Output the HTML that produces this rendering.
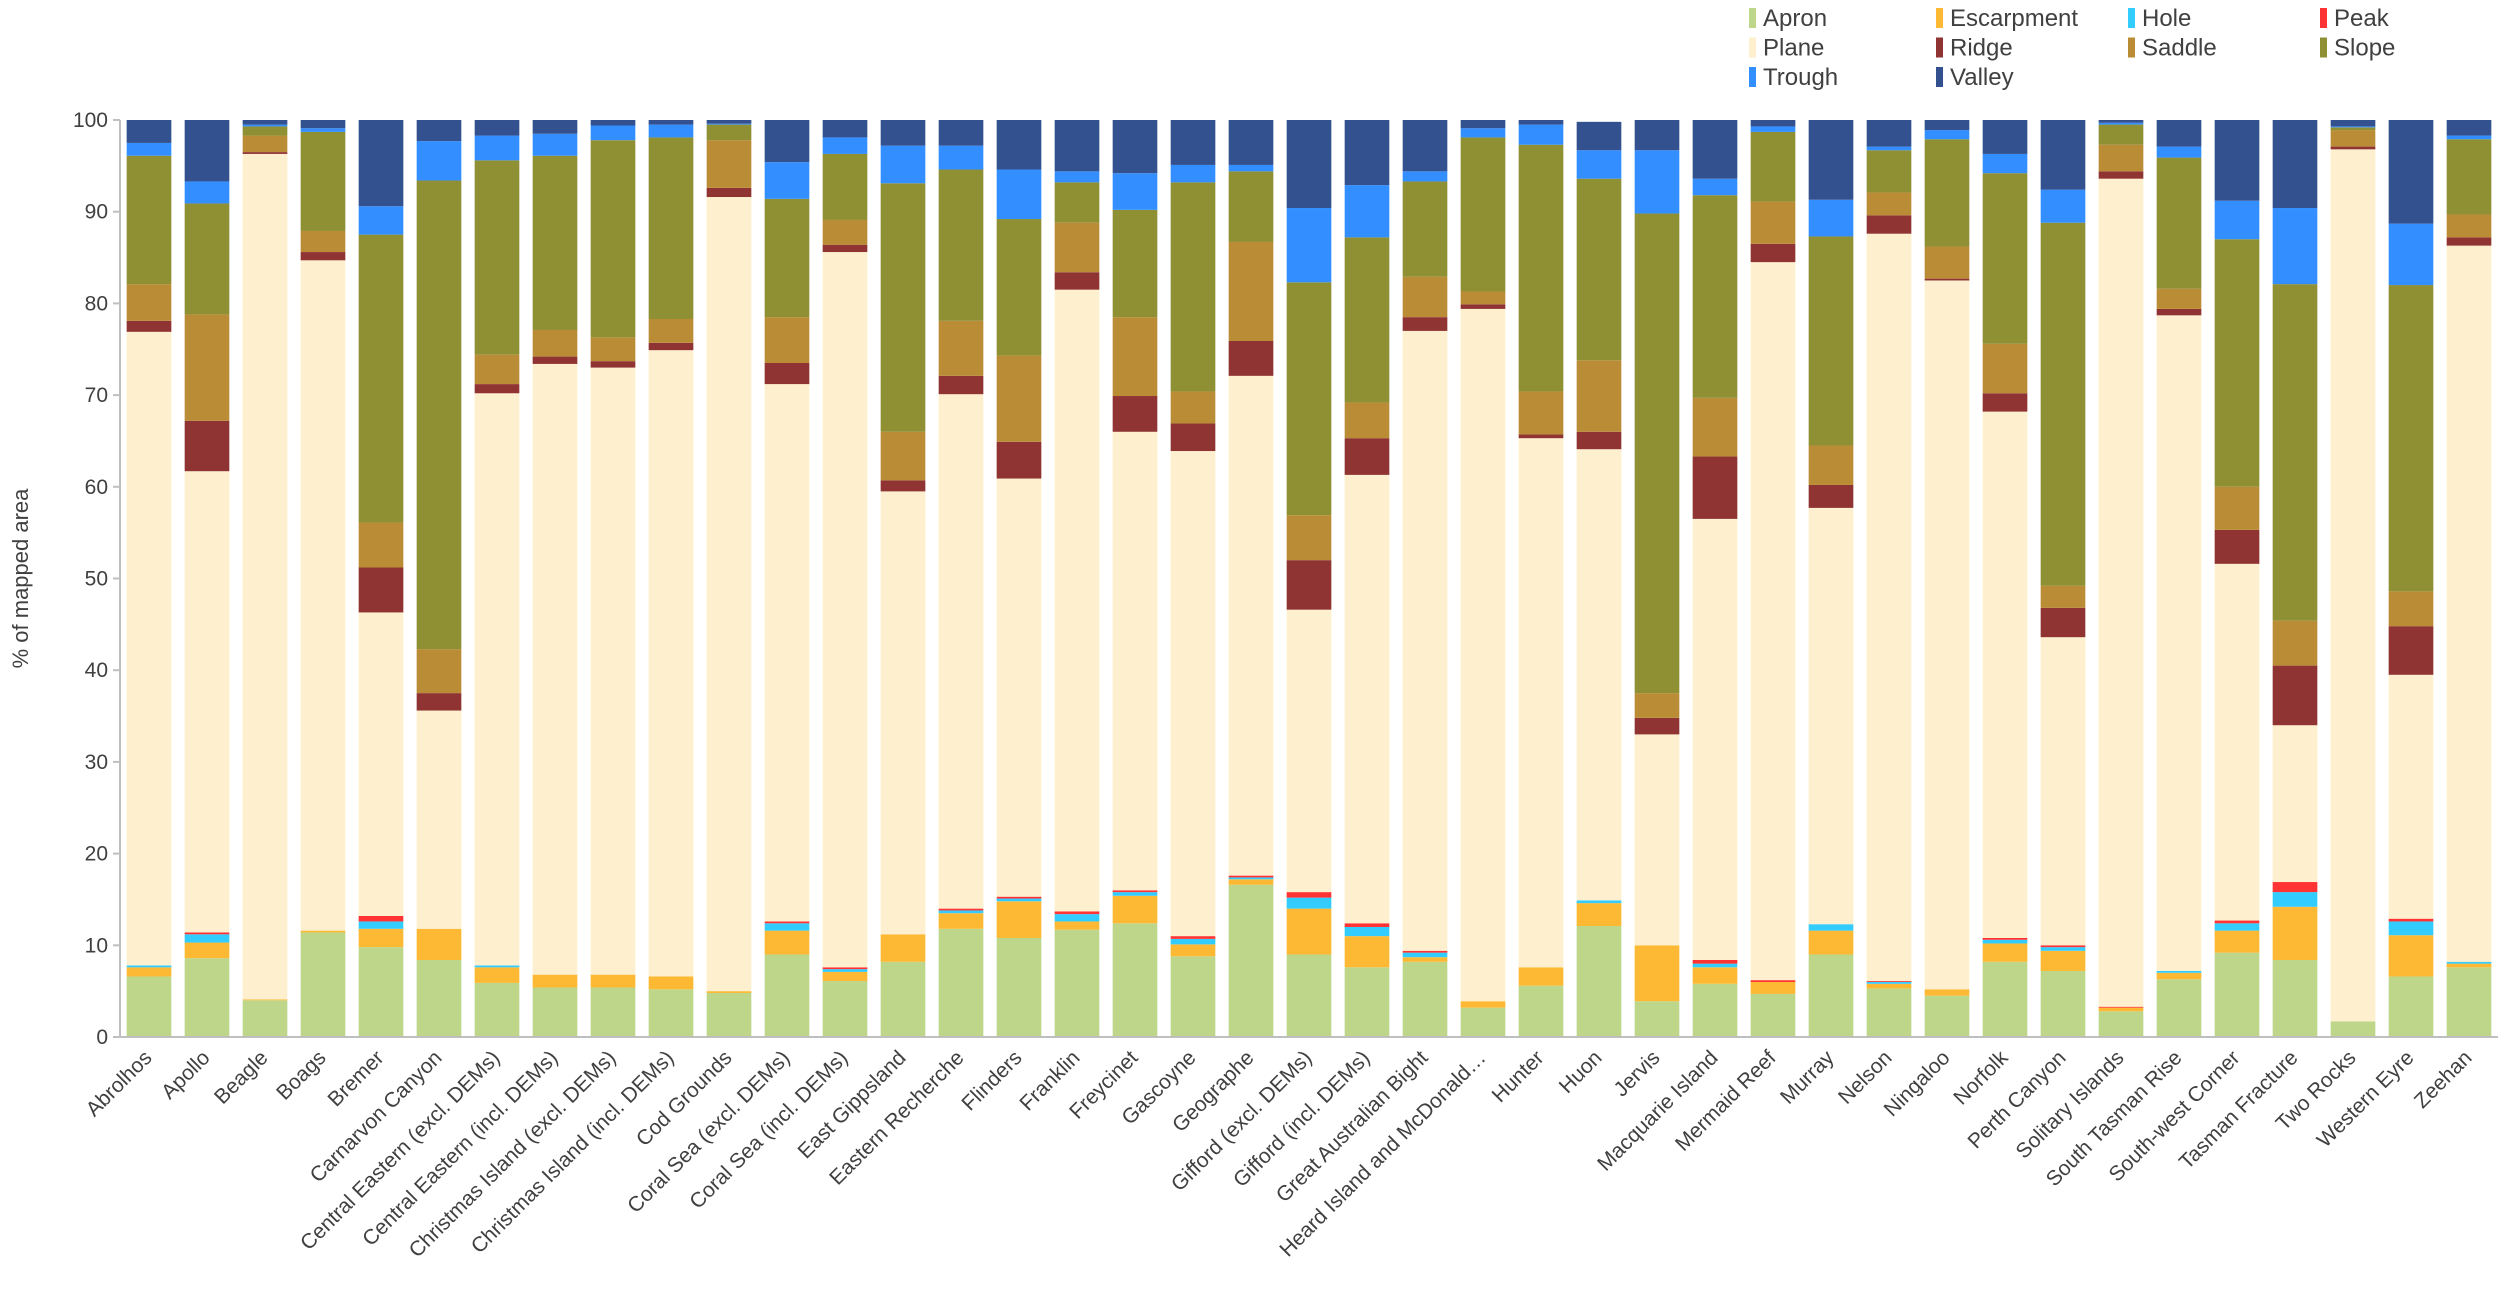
<!DOCTYPE html>
<html><head><meta charset="utf-8"><style>
body{margin:0;background:#fff;}
svg text{font-family:"Liberation Sans",sans-serif;fill:#404040;}
</style></head><body>
<svg id="chart" width="2500" height="1303" xmlns="http://www.w3.org/2000/svg"></svg>
<script>
const categories=["Abrolhos","Apollo","Beagle","Boags","Bremer","Carnarvon Canyon","Central Eastern (excl. DEMs)","Central Eastern (incl. DEMs)","Christmas Island (excl. DEMs)","Christmas Island (incl. DEMs)","Cod Grounds","Coral Sea (excl. DEMs)","Coral Sea (incl. DEMs)","East Gippsland","Eastern Recherche","Flinders","Franklin","Freycinet","Gascoyne","Geographe","Gifford (excl. DEMs)","Gifford (incl. DEMs)","Great Australian Bight","Heard Island and McDonald…","Hunter","Huon","Jervis","Macquarie Island","Mermaid Reef","Murray","Nelson","Ningaloo","Norfolk","Perth Canyon","Solitary Islands","South Tasman Rise","South-west Corner","Tasman Fracture","Two Rocks","Western Eyre","Zeehan"];
const seriesNames=["Apron","Escarpment","Hole","Peak","Plane","Ridge","Saddle","Slope","Trough","Valley"];
const seriesColors=["#bdd68a","#fdb933","#33ccff","#ff3333","#feefce","#8f3333","#b98c35","#8f8f33","#338fff","#33508f"];
const apron=[6.6,8.6,4.0,11.4,9.8,8.4,5.9,5.4,5.4,5.2,4.8,9.0,6.1,8.2,11.8,10.8,11.7,12.4,8.8,16.6,9.0,7.6,8.2,3.2,5.6,12.1,3.9,5.8,4.7,9.0,5.3,4.5,8.2,7.2,2.8,6.3,9.2,8.4,1.7,6.6,7.6];
const escarpment=[1.0,1.7,0.1,0.2,2.0,3.4,1.7,1.4,1.4,1.4,0.2,2.6,1.0,3.0,1.7,4.0,0.9,3.0,1.3,0.6,5.0,3.4,0.5,0.7,2.0,2.5,6.1,1.8,1.3,2.6,0.5,0.7,2.0,2.2,0.4,0.7,2.4,5.8,0,4.5,0.4];
const hole=[0.2,0.9,0,0,0.8,0,0.2,0,0,0,0,0.8,0.3,0,0.3,0.3,0.8,0.4,0.6,0.2,1.2,1.0,0.5,0,0,0.3,0,0.4,0,0.7,0.2,0,0.4,0.4,0,0.2,0.8,1.6,0,1.5,0.2];
const peak=[0,0.2,0,0,0.6,0,0,0,0,0,0,0.2,0.2,0,0.2,0.2,0.3,0.2,0.3,0.2,0.6,0.4,0.2,0,0,0,0,0.4,0.2,0,0.1,0,0.2,0.2,0.1,0,0.3,1.1,0,0.3,0];
const plane=[69.1,50.3,92.2,73.1,33.1,23.8,62.4,66.6,66.2,68.3,86.6,58.6,78.0,48.3,56.1,45.6,67.8,50.0,52.9,54.5,30.8,48.9,67.6,75.5,57.7,49.2,23.0,48.1,78.3,45.4,81.5,77.3,57.4,33.6,90.3,71.5,38.9,17.1,95.1,26.6,78.1];
const ridge=[1.2,5.5,0.2,0.9,4.9,1.9,1.0,0.8,0.7,0.8,1.0,2.3,0.8,1.2,2.0,4.0,1.9,3.9,3.0,3.8,5.4,4.0,1.5,0.5,0.4,1.9,1.8,6.8,2.0,2.5,2.0,0.2,2.0,3.2,0.8,0.7,3.7,6.5,0.3,5.3,0.9];
const saddle=[4.0,11.6,1.8,2.3,4.9,4.8,3.2,2.9,2.6,2.6,5.2,5.0,2.7,5.3,6.0,9.4,5.4,8.6,3.5,10.8,4.9,3.9,4.4,1.4,4.7,7.8,2.7,6.4,4.6,4.3,2.5,3.5,5.4,2.4,2.9,2.2,4.7,4.9,1.8,3.8,2.5];
const slope=[14.0,12.1,1.0,10.8,31.4,51.1,21.2,19.0,21.5,19.8,1.7,12.9,7.2,27.1,16.5,14.9,4.4,11.7,22.8,7.7,25.4,18.0,10.4,16.8,26.9,19.8,52.3,22.1,7.6,22.8,4.6,11.7,18.6,39.6,2.2,14.3,27.0,36.7,0.3,33.4,8.2];
const trough=[1.4,2.4,0.2,0.4,3.1,4.3,2.7,2.4,1.6,1.4,0.1,4.0,1.8,4.1,2.6,5.4,1.2,4.0,1.9,0.7,8.1,5.7,1.1,1.0,2.2,3.1,6.9,1.8,0.6,4.0,0.4,1.0,2.1,3.6,0.2,1.2,4.2,8.3,0.1,6.7,0.4];
const valley=[2.5,6.7,0.5,0.9,9.4,2.3,1.7,1.5,0.6,0.5,0.4,4.6,1.9,2.8,2.8,5.4,5.6,5.8,4.9,4.9,9.6,7.1,5.6,0.9,0.5,3.1,3.3,6.4,0.7,8.7,2.9,1.1,3.7,7.6,0.3,2.9,8.8,9.6,0.7,11.3,1.7];
const yTicks=[0,10,20,30,40,50,60,70,80,90,100];
const series=[apron,escarpment,hole,peak,plane,ridge,saddle,slope,trough,valley];

const NS="http://www.w3.org/2000/svg";
const svg=document.getElementById('chart');
const L=120,R=2498,T=120,B=1037;
const band=(R-L)/categories.length, bw=band*0.77;
function y(v){return B-(v/100)*(B-T);}
function x(i){return L+band*i+(band-bw)/2;}
function mk(tag,attrs){const e=document.createElementNS(NS,tag);for(const k in attrs)e.setAttribute(k,attrs[k]);svg.appendChild(e);return e;}

// bars
categories.forEach((c,i)=>{
  let cum=0;
  series.forEach((s,k)=>{
    const v=s[i]; if(v<=0) return;
    const r=mk('rect',{x:x(i),y:y(cum+v),width:bw,height:y(cum)-y(cum+v),fill:seriesColors[k]});
    
    
    cum+=v;
  });
  const lx=x(i)+bw/2+4, ly=B+22;
  const t=mk('text',{x:lx,y:ly,'font-size':21,'text-anchor':'end',transform:`rotate(-45 ${lx} ${ly})`});
  t.textContent=c;
  
  
});
// axes
const ax=mk('line',{x1:L,y1:T,x2:L,y2:B,stroke:'#bfbfbf','stroke-width':2});


const bx=mk('line',{x1:L,y1:B,x2:R,y2:B,stroke:'#bfbfbf','stroke-width':2});


yTicks.forEach(v=>{
  const tk=mk('line',{x1:L-7,y1:y(v),x2:L,y2:y(v),stroke:'#bfbfbf','stroke-width':2});
  
  
  const t=mk('text',{x:L-12,y:y(v)+7,'font-size':21,'text-anchor':'end'});
  t.textContent=v;
  
  
});
const yt=mk('text',{x:28,y:(T+B)/2,'font-size':22,'text-anchor':'middle',transform:`rotate(-90 28 ${(T+B)/2})`});
yt.textContent='% of mapped area';


// legend
const colX=[1749,1936,2128,2320];
seriesNames.forEach((n,k)=>{
  const cx=colX[k%4], cy=18+Math.floor(k/4)*29.5;
  const sw=mk('rect',{x:cx,y:cy-10,width:7,height:20,fill:seriesColors[k]});
  
  
  const t=mk('text',{x:cx+14,y:cy+8,'font-size':24});
  t.textContent=n;
  
  
});
</script>
</body></html>
